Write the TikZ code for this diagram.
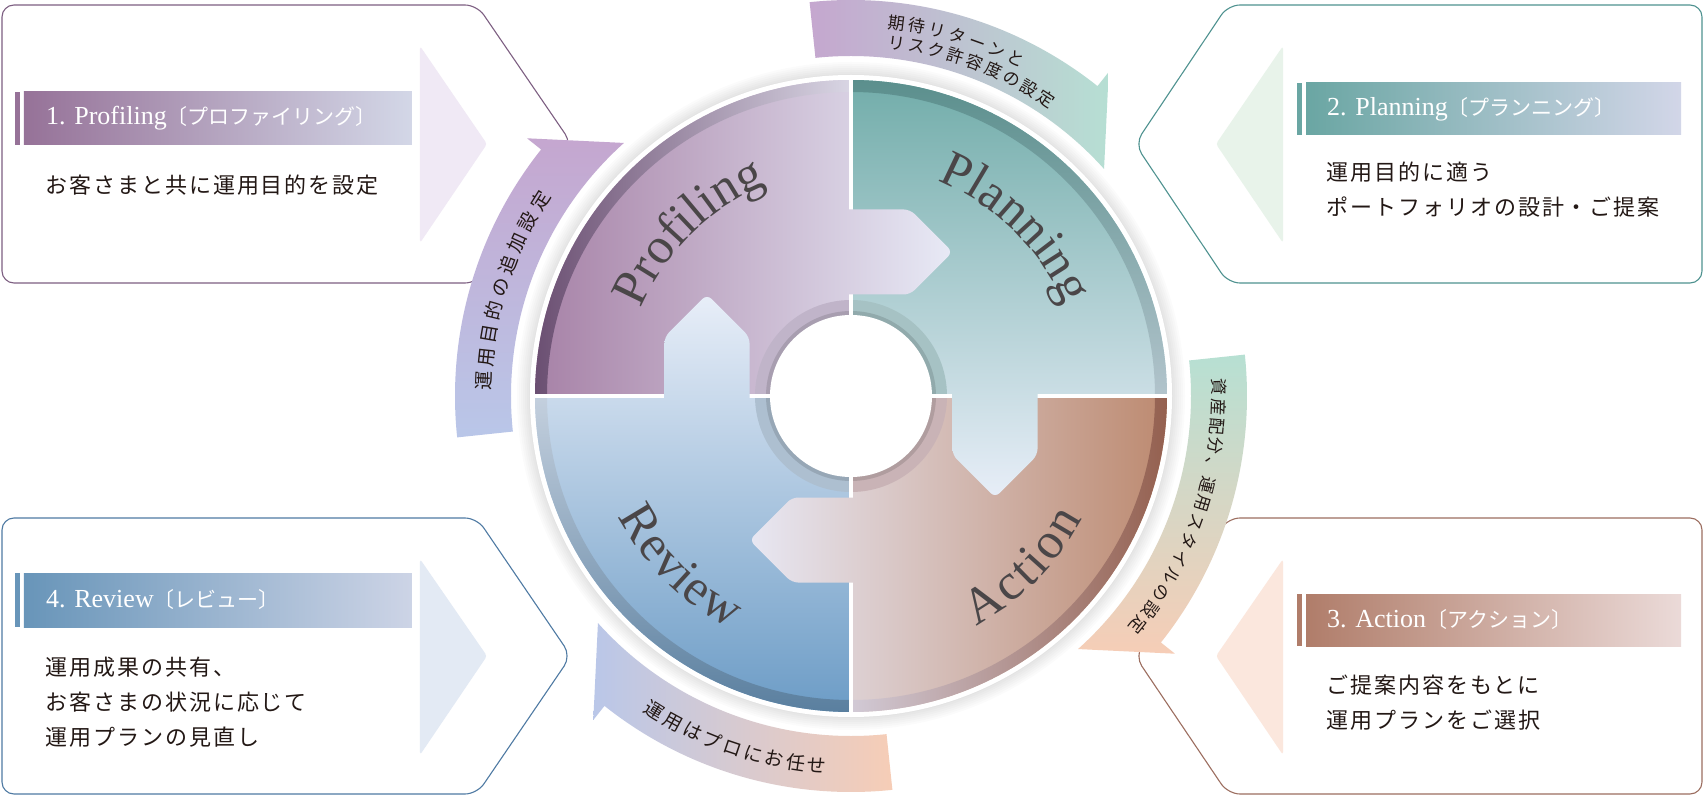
\documentclass[tikz,border=0pt]{standalone}
\usepackage{fontspec}
\newfontfamily\jfont{Noto Sans CJK JP}
\newfontfamily\jdesc[LetterSpace=9]{Noto Sans CJK JP}
\newfontfamily\wserif{Liberation Serif}

\definecolor{ink}{HTML}{231815}
\definecolor{wordgray}{HTML}{4A4648}
% profiling
\definecolor{proA}{HTML}{A782A7}
\definecolor{proB}{HTML}{E8EAF6}
\definecolor{proRimA}{HTML}{6B4F72}
\definecolor{proRimB}{HTML}{D9D6E4}
\definecolor{proRing}{HTML}{C0B4C9}
\definecolor{proLine}{HTML}{7D5F82}
\definecolor{proTri}{HTML}{F0E9F5}
\definecolor{proHead}{HTML}{967298}
\definecolor{proHeadB}{HTML}{D3D7E7}
% planning
\definecolor{plaA}{HTML}{72ADAA}
\definecolor{plaB}{HTML}{E8EEF8}
\definecolor{plaRimA}{HTML}{5B8F8D}
\definecolor{plaRimB}{HTML}{B2C4CC}
\definecolor{plaRing}{HTML}{A6C2C4}
\definecolor{plaLine}{HTML}{4F9290}
\definecolor{plaTri}{HTML}{E8F3EA}
\definecolor{plaHead}{HTML}{6AA6A3}
\definecolor{plaHeadB}{HTML}{D2D6E8}
% action
\definecolor{actA}{HTML}{E8E8F4}
\definecolor{actB}{HTML}{BD8A70}
\definecolor{actRimA}{HTML}{D2CAD6}
\definecolor{actRimB}{HTML}{94604F}
\definecolor{actRing}{HTML}{C9B3B6}
\definecolor{actLine}{HTML}{9C6E60}
\definecolor{actTri}{HTML}{FBE7DD}
\definecolor{actHead}{HTML}{B07D6A}
\definecolor{actHeadB}{HTML}{EBDAD8}
% review
\definecolor{revA}{HTML}{E8EEF8}
\definecolor{revB}{HTML}{6C9CC6}
\definecolor{revRimA}{HTML}{C4D0DE}
\definecolor{revRimB}{HTML}{5A7F9F}
\definecolor{revRing}{HTML}{ADBFD0}
\definecolor{revLine}{HTML}{4F7AA3}
\definecolor{revTri}{HTML}{E3EAF4}
\definecolor{revHead}{HTML}{6895B9}
\definecolor{revHeadB}{HTML}{CDD4E6}
% arrows
\definecolor{lilac}{HTML}{C5A6CF}
\definecolor{mint}{HTML}{B6E0D3}
\definecolor{peach}{HTML}{F7CDB6}
\definecolor{sky}{HTML}{B9C7E9}

\newcommand\wordfont{\wserif\fontsize{51}{51}\selectfont\color{wordgray}}
\newcommand\bandfont{\jfont\fontsize{17}{17}\selectfont\color{ink}}
\newcommand\bandfontL{\jfont\fontsize{19}{19}\selectfont\color{ink}}
\newcommand\kana{\jfont\fontsize{21}{21}\selectfont}

% pieces of the wheel
\newcommand\sector[3]{(0,0) -- (#1:#3) arc[start angle=#1, end angle=#2, radius=#3] -- cycle}
\newcommand\ring[4]{(#1:#4) arc[start angle=#1, end angle=#2, radius=#4] -- (#2:#3) arc[start angle=#2, end angle=#1, radius=#3] -- cycle}
\newcommand\band[2]{(#1:340) -- (#1:396) arc[start angle=#1, end angle=#2, radius=396] -- (#2:414) -- ({#2-9.6}:340) arc[start angle={#2-9.6}, end angle=#1, radius=340] -- cycle}

% Japanese along a circle: every sign has the same advance
% #1 name, #2 font, #3 advance, #4 radius, #5 middle angle, #6 1 = clockwise / -1 = counterclockwise, #7 signs
\newcommand\arcjp[7]{%
  \foreach \arcch [count=\i] in {#7}{\xdef\arcn{\i}}%
  \foreach \arcch [count=\i] in {#7}{%
    \pgfmathsetmacro\arcang{#5-(#6)*(\i-(\arcn+1)/2)*#3/#4*180/pi}%
    \node[anchor=base, inner sep=0pt, rotate={\arcang-(#6)*90}] (#1-\i) at (\arcang:#4) {#2\arcch};}%
}
% Latin along a circle: letter/width(em) pairs
% #1 name, #2 font, #3 size, #4 radius, #5 middle angle, #6 direction, #7 spacing, #8 letters
\newcommand\arcword[8]{%
  \gdef\arcsum{0}%
  \foreach \arcch/\arcw in {#8}{%
    \pgfmathsetmacro\arctmp{\arcsum+\arcw*#3+#7}\xdef\arcsum{\arctmp}}%
  \gdef\arcpos{0}%
  \foreach \arcch/\arcw [count=\i] in {#8}{%
    \pgfmathsetmacro\arcoff{\arcpos+\arcw*#3/2-(\arcsum-#7)/2}%
    \pgfmathsetmacro\arcang{#5-(#6)*\arcoff/#4*180/pi}%
    \node[anchor=base, inner sep=0pt, rotate={\arcang-(#6)*90}] (#1-\i) at (\arcang:#4) {#2\arcch};%
    \pgfmathsetmacro\arctmp{\arcpos+\arcw*#3+#7}\xdef\arcpos{\arctmp}}%
}

\begin{document}
\begin{tikzpicture}[x=1pt, y=1pt,
    box/.style = {rounded corners=12, line width=1.1, fill=white},
    tri/.style = {rounded corners=3},
    head/.style = {anchor=west, inner sep=0pt, text=white, font=\wserif\fontsize{26}{26}\selectfont},
    desc/.style = {anchor=west, inner sep=0pt, align=left, text=ink, font=\jdesc\fontsize{22}{35}\selectfont}]
\path[use as bounding box, fill=white] (-851,-401) rectangle (853,396);

% the four cards
\draw[box, draw=proLine] (-849,391) -- (-374,391) -- (-279,252) -- (-374,113) -- (-849,113) -- cycle;
\draw[box, draw=plaLine] (851,391) -- (377,391) -- (284,252) -- (377,113) -- (851,113) -- cycle;
\draw[box, draw=actLine] (851,-122) -- (377,-122) -- (284,-260) -- (377,-398) -- (851,-398) -- cycle;
\draw[box, draw=revLine] (-849,-122) -- (-374,-122) -- (-280,-260) -- (-374,-398) -- (-849,-398) -- cycle;

\fill[tri, proTri] (-431,350) -- (-364,252) -- (-431,153) -- cycle;
\fill[tri, plaTri] (432,350) -- (365,252) -- (432,153) -- cycle;
\fill[tri, actTri] (432,-163) -- (365,-260) -- (432,-359) -- cycle;
\fill[tri, revTri] (-431,-163) -- (-364,-260) -- (-431,-359) -- cycle;

% headings
\fill[proHead] (-836,251) rectangle (-831,304);
\shade[left color=proHead, right color=proHeadB] (-827,251) rectangle (-439,304);
\fill[plaHead] (446,261) rectangle (451,313);
\shade[left color=plaHead, right color=plaHeadB] (455,261) rectangle (830,313);
\fill[actHead] (446,-250) rectangle (451,-198);
\shade[left color=actHead, right color=actHeadB] (455,-250) rectangle (830,-198);
\fill[revHead] (-836,-231) rectangle (-831,-177);
\shade[left color=revHead, right color=revHeadB] (-827,-231) rectangle (-439,-177);

\node[head] (h1) at (-805,277.5) {1. Profiling{\kana〔プロファイリング〕}};
\node[head] (h2) at (476,287) {2. Planning{\kana〔プランニング〕}};
\node[head] (h3) at (476,-224) {3. Action{\kana〔アクション〕}};
\node[head] (h4) at (-805,-204) {4. Review{\kana〔レビュー〕}};

\node[desc] (d1) at (-806,211) {お客さまと共に運用目的を設定};
\node[desc] (d2) at (475,206.5) {運用目的に適う\\ポートフォリオの設計・ご提案};
\node[desc] (d3) at (475,-306.5) {ご提案内容をもとに\\運用プランをご選択};
\node[desc] (d4) at (-806,-306) {運用成果の共有、\\お客さまの状況に応じて\\運用プランの見直し};

% curved arrows round the wheel
\begin{scope}
  \clip \band{96}{51.5};
  \shade[left color=lilac, right color=mint] (-45,220) rectangle (262,400);
\end{scope}
\begin{scope}
  \clip \band{6}{-38.5};
  \shade[top color=mint, bottom color=peach] (220,-262) rectangle (420,45);
\end{scope}
\begin{scope}
  \clip \band{-84}{-128.5};
  \shade[left color=sky, right color=peach] (-262,-400) rectangle (45,-220);
\end{scope}
\begin{scope}
  \clip \band{186}{141.5};
  \shade[bottom color=sky, top color=lilac] (-420,-45) rectangle (-220,262);
\end{scope}

\arcjp{ta}{\bandfont}{20.4}{369.5}{73.5}{1}{期,待,リ,タ,ー,ン,と}
\arcjp{tb}{\bandfont}{19.8}{349.5}{69.65}{1}{リ,ス,ク,許,容,度,の,設,定}
\arcjp{ra}{\bandfont}{19.4}{361.5}{-18.6}{1}{資,産,配,分,、,運,用,ス,タ,イ,ル,の,設,定}
\arcjp{ba}{\bandfontL}{22}{378}{-108.6}{-1}{運,用,は,プ,ロ,に,お,任,せ}
\arcjp{la}{\bandfontL}{23.4}{360}{162.75}{1}{運,用,目,的,の,追,加,設,定}

% the wheel
\foreach \r in {334,332,...,322} \fill[black, opacity=.015] (0,0) circle (\r);
\fill[white] (0,0) circle (321);

\begin{scope}
  \clip \sector{90}{180}{316};
  \shade[left color=proA, right color=proB] (-316,0) rectangle (102,316);
\end{scope}
\begin{scope}
  \clip \sector{0}{90}{316};
  \shade[top color=plaA, bottom color=plaB] (0,-103) rectangle (316,316);
\end{scope}
\begin{scope}
  \clip \sector{-90}{0}{316};
  \shade[left color=actA, right color=actB] (-104,-316) rectangle (316,0);
\end{scope}
\begin{scope}
  \clip \sector{180}{270}{316};
  \shade[top color=revA, bottom color=revB] (-316,-316) rectangle (0,101);
\end{scope}

% rims
\begin{scope}
  \clip \ring{90}{180}{304}{316};
  \shade[left color=proRimA, right color=proRimB] (-316,0) rectangle (0,316);
\end{scope}
\begin{scope}
  \clip \ring{0}{90}{304}{316};
  \shade[top color=plaRimA, bottom color=plaRimB] (0,0) rectangle (316,316);
\end{scope}
\begin{scope}
  \clip \ring{-90}{0}{304}{316};
  \shade[left color=actRimA, right color=actRimB] (0,-316) rectangle (316,0);
\end{scope}
\begin{scope}
  \clip \ring{180}{270}{304}{316};
  \shade[top color=revRimA, bottom color=revRimB] (-316,-316) rectangle (0,0);
\end{scope}

\fill[proRing] \ring{90}{180}{80}{96};
\fill[plaRing] \ring{0}{90}{80}{96};
\fill[actRing] \ring{-90}{0}{80}{96};
\fill[revRing] \ring{180}{270}{80}{96};
\fill[black, opacity=.12] (0,0) circle (85);
\fill[white] (0,0) circle (81);

\draw[white, line width=3.5] (0,-321) -- (0,321) (-321,0) -- (321,0);

% puzzle tabs
\begin{scope}
  \clip[rounded corners=6] (-10,186.5) -- (59,186.5) -- (101.5,144) -- (59,101.5) -- (-10,101.5) -- cycle;
  \shade[left color=proA, right color=proB] (-316,0) rectangle (102,316);
\end{scope}
\begin{scope}
  \clip[rounded corners=6] (186.5,10) -- (186.5,-59) -- (144,-101.5) -- (101.5,-59) -- (101.5,10) -- cycle;
  \shade[top color=plaA, bottom color=plaB] (0,-103) rectangle (316,316);
\end{scope}
\begin{scope}
  \clip[rounded corners=6] (10,-186.5) -- (-59,-186.5) -- (-101.5,-144) -- (-59,-101.5) -- (10,-101.5) -- cycle;
  \shade[left color=actA, right color=actB] (-104,-316) rectangle (316,0);
\end{scope}
\begin{scope}
  \clip[rounded corners=6] (-186.5,-10) -- (-186.5,59) -- (-144,101.5) -- (-101.5,59) -- (-101.5,-10) -- cycle;
  \shade[top color=revA, bottom color=revB] (-316,-316) rectangle (0,101);
\end{scope}

\arcword{wpro}{\wordfont}{51}{227}{134.6}{1}{0}{P/.556,r/.333,o/.5,f/.333,i/.278,l/.278,i/.278,n/.5,g/.5}
\arcword{wpla}{\wordfont}{51}{232}{45.5}{1}{0.2}{P/.556,l/.278,a/.444,n/.5,n/.5,i/.278,n/.5,g/.5}
\arcword{wact}{\wordfont}{51}{262}{-44.7}{-1}{2.9}{A/.722,c/.444,t/.278,i/.278,o/.5,n/.5}
\arcword{wrev}{\wordfont}{51}{262}{-135.1}{-1}{1}{R/.667,e/.444,v/.5,i/.278,e/.444,w/.722}
\end{tikzpicture}
\end{document}
